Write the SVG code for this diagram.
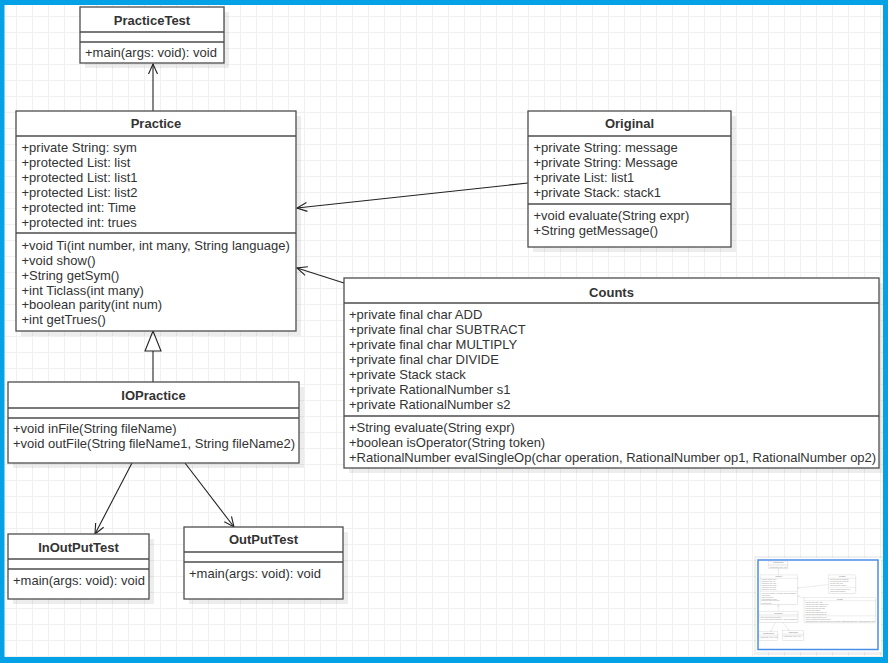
<svg xmlns="http://www.w3.org/2000/svg" xmlns:xlink="http://www.w3.org/1999/xlink" width="888" height="663" viewBox="0 0 888 663">
<style>
.box{fill:#fff;stroke:#4d4d4d;stroke-width:1.3}
.sh{fill:#000;fill-opacity:0.07}
.div{stroke:#4d4d4d;stroke-width:1.3;fill:none}
.t{font-family:"Liberation Sans",Arial,sans-serif;font-size:13px;fill:#333}
.h{font-family:"Liberation Sans",Arial,sans-serif;font-size:13px;font-weight:bold;fill:#333;text-anchor:middle}
.ln{stroke:#222;stroke-width:1.1;fill:none}
</style>
<defs>
<pattern id="grid" width="16" height="16" patternUnits="userSpaceOnUse">
<path d="M0.5,0 V16 M0,0.5 H16" stroke="#f0f0f0" stroke-width="1" fill="none"/>
</pattern>
<marker id="open" markerUnits="userSpaceOnUse" markerWidth="14" markerHeight="12" refX="12" refY="6" orient="auto" viewBox="0 0 14 12">
<path d="M2,1.5 L12,6 L2,10.5" fill="none" stroke="#222" stroke-width="1.1"/>
</marker>
<marker id="tri" markerUnits="userSpaceOnUse" markerWidth="24" markerHeight="20" refX="22" refY="10" orient="auto" viewBox="0 0 24 20">
<path d="M2,2 L22,10 L2,18 Z" fill="#fff" stroke="#222" stroke-width="1.1"/>
</marker>
</defs>
<rect x="0" y="0" width="888" height="663" fill="#fff"/>
<rect x="0" y="0" width="888" height="663" fill="url(#grid)"/>
<g id="diagram">
<g id="connectors">
<line class="ln" x1="153" y1="111" x2="153" y2="64" marker-end="url(#open)"/>
<line class="ln" x1="528" y1="183" x2="297" y2="208" marker-end="url(#open)"/>
<line class="ln" x1="344" y1="283" x2="297" y2="268" marker-end="url(#open)"/>
<line class="ln" x1="153" y1="382" x2="153" y2="331" marker-end="url(#tri)"/>
<line class="ln" x1="132" y1="463" x2="95" y2="534" marker-end="url(#open)"/>
<line class="ln" x1="185" y1="463" x2="234" y2="527" marker-end="url(#open)"/>
</g>
<g id="PracticeTest">
<rect class="sh" x="85" y="12" width="144" height="56"/>
<rect class="box" x="80" y="7" width="144" height="56"/>
<path class="div" d="M80,32 H224 M80,42 H224"/>
<text class="h" x="152" y="24.5">PracticeTest</text>
<text class="t" x="85" y="57">+main(args: void): void</text>
</g>
<g id="Practice">
<rect class="sh" x="21" y="116" width="280" height="220"/>
<rect class="box" x="16" y="111" width="280" height="220"/>
<path class="div" d="M16,136 H296 M16,233 H296"/>
<text class="h" x="156" y="127.5">Practice</text>
<text class="t" x="21.5" y="151.5">+private String: sym</text>
<text class="t" x="21.5" y="166.5">+protected List: list</text>
<text class="t" x="21.5" y="181.5">+protected List: list1</text>
<text class="t" x="21.5" y="196.5">+protected List: list2</text>
<text class="t" x="21.5" y="211.5">+protected int: Time</text>
<text class="t" x="21.5" y="226.5">+protected int: trues</text>
<text class="t" x="21.5" y="249.5">+void Ti(int number, int many, String language)</text>
<text class="t" x="21.5" y="264.5">+void show()</text>
<text class="t" x="21.5" y="279.5">+String getSym()</text>
<text class="t" x="21.5" y="294.5">+int Ticlass(int many)</text>
<text class="t" x="21.5" y="309">+boolean parity(int num)</text>
<text class="t" x="21.5" y="324">+int getTrues()</text>
</g>
<g id="Original">
<rect class="sh" x="533" y="116" width="203" height="136"/>
<rect class="box" x="528" y="111" width="203" height="136"/>
<path class="div" d="M528,136 H731 M528,204 H731"/>
<text class="h" x="629.5" y="127.5">Original</text>
<text class="t" x="533.5" y="151.5">+private String: message</text>
<text class="t" x="533.5" y="166.5">+private String: Message</text>
<text class="t" x="533.5" y="181.5">+private List: list1</text>
<text class="t" x="533.5" y="196.5">+private Stack: stack1</text>
<text class="t" x="533.5" y="219.5">+void evaluate(String expr)</text>
<text class="t" x="533.5" y="234.5">+String getMessage()</text>
</g>
<g id="Counts">
<rect class="sh" x="349" y="283" width="535" height="190"/>
<rect class="box" x="344" y="278" width="535" height="190"/>
<path class="div" d="M344,303 H879 M344,416 H879"/>
<text class="h" x="611.5" y="296.5">Counts</text>
<text class="t" x="349" y="318.5">+private final char ADD</text>
<text class="t" x="349" y="333.5">+private final char SUBTRACT</text>
<text class="t" x="349" y="348.5">+private final char MULTIPLY</text>
<text class="t" x="349" y="363.5">+private final char DIVIDE</text>
<text class="t" x="349" y="378.5">+private Stack stack</text>
<text class="t" x="349" y="393.5">+private RationalNumber s1</text>
<text class="t" x="349" y="408.5">+private RationalNumber s2</text>
<text class="t" x="349" y="432">+String evaluate(String expr)</text>
<text class="t" x="349" y="447">+boolean isOperator(String token)</text>
<text class="t" x="349" y="462">+RationalNumber evalSingleOp(char operation, RationalNumber op1, RationalNumber op2)</text>
</g>
<g id="IOPractice">
<rect class="sh" x="13" y="387" width="291" height="81"/>
<rect class="box" x="8" y="382" width="291" height="81"/>
<path class="div" d="M8,408 H299 M8,418 H299"/>
<text class="h" x="153.5" y="399.5">IOPractice</text>
<text class="t" x="13" y="432.5">+void inFile(String fileName)</text>
<text class="t" x="13" y="447.5">+void outFile(String fileName1, String fileName2)</text>
</g>
<g id="InOutPutTest">
<rect class="sh" x="13" y="539" width="141" height="65"/>
<rect class="box" x="8" y="534" width="141" height="65"/>
<path class="div" d="M8,559 H149 M8,569 H149"/>
<text class="h" x="78.5" y="552">InOutPutTest</text>
<text class="t" x="13" y="584.5">+main(args: void): void</text>
</g>
<g id="OutPutTest">
<rect class="sh" x="189" y="532" width="159" height="72"/>
<rect class="box" x="184" y="527" width="159" height="72"/>
<path class="div" d="M184,552 H343 M184,562 H343"/>
<text class="h" x="263.5" y="544">OutPutTest</text>
<text class="t" x="189" y="577.5">+main(args: void): void</text>
</g>
</g>
<g id="minimap">
<rect x="754" y="556" width="130" height="99" fill="#000" fill-opacity="0.06"/>
<rect x="756" y="558" width="125" height="94" fill="#fff"/>
<use xlink:href="#diagram" href="#diagram" transform="translate(757.9,560.1) scale(0.134)" opacity="0.55"/>
<rect x="758" y="560" width="120" height="89.5" fill="none" stroke="#4a8fe6" stroke-width="1.5"/>
</g>
<path d="M0,0 H888 V663 H0 Z M4.5,5 V657 H883 V5 Z" fill="#03a1e6" fill-rule="evenodd"/>
</svg>
